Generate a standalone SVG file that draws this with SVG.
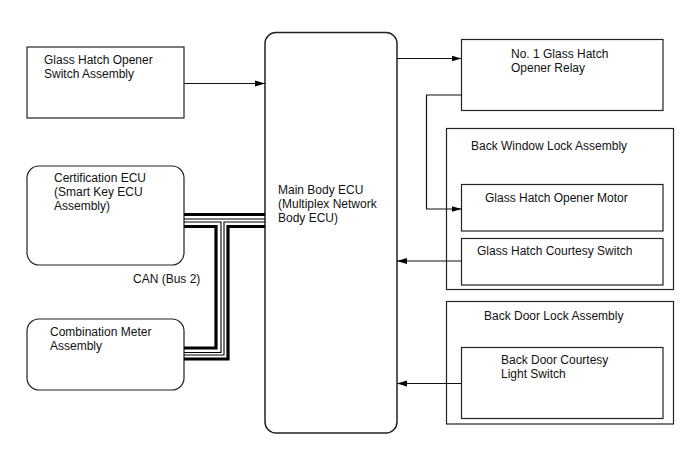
<svg xmlns="http://www.w3.org/2000/svg" width="688" height="463" viewBox="0 0 688 463">
<style>
.b{fill:#fff;stroke:#222;stroke-width:1.2}
.t{font-family:"Liberation Sans",Arial,sans-serif;font-size:12px;fill:#111}
.c{fill:none;stroke:#111;stroke-width:1.2}
.k{fill:none;stroke:#000;stroke-width:3.2}
.n{fill:none;stroke:#000;stroke-width:1.1}
</style>
<defs>
<marker id="ah" viewBox="0 0 10 8" refX="10" refY="4" markerWidth="10" markerHeight="8" markerUnits="userSpaceOnUse" orient="auto">
<path d="M0,1 L10,4 L0,7 Z" fill="#000"/>
</marker>
</defs>
<rect width="688" height="463" fill="#fff"/>
<g id="switch">
<rect class="b" x="27" y="47" width="157" height="71"/>
<text class="t" x="44" y="64">Glass Hatch Opener</text>
<text class="t" x="44" y="78">Switch Assembly</text>
</g>
<g id="cert">
<rect class="b" x="27" y="166" width="157" height="99" rx="12"/>
<text class="t" x="54" y="182">Certification ECU</text>
<text class="t" x="54" y="196">(Smart Key ECU</text>
<text class="t" x="54" y="210">Assembly)</text>
</g>
<g id="can">
<text class="t" x="133" y="283">CAN (Bus 2)</text>
</g>
<g id="meter">
<rect class="b" x="27" y="319" width="157" height="71" rx="12"/>
<text class="t" x="50" y="336">Combination Meter</text>
<text class="t" x="50" y="350">Assembly</text>
</g>
<g id="main">
<rect class="b" x="265" y="32.5" width="132" height="400.5" rx="11" style="stroke-width:1.5"/>
<text class="t" x="278" y="194">Main Body ECU</text>
<text class="t" x="278" y="208">(Multiplex Network</text>
<text class="t" x="278" y="222">Body ECU)</text>
</g>
<g id="relay">
<rect class="b" x="461.5" y="39.5" width="201.5" height="71"/>
<text class="t" x="511" y="58">No. 1 Glass Hatch</text>
<text class="t" x="511" y="72">Opener Relay</text>
</g>
<g id="backwindow">
<rect class="b" x="446.5" y="128.5" width="227" height="161"/>
<text class="t" x="471" y="150">Back Window Lock Assembly</text>
</g>
<g id="motor">
<rect class="b" x="461.5" y="184.5" width="201.5" height="46.5"/>
<text class="t" x="485" y="202">Glass Hatch Opener Motor</text>
</g>
<g id="courtesy">
<rect class="b" x="461.5" y="238.5" width="201.5" height="46.5"/>
<text class="t" x="477" y="255">Glass Hatch Courtesy Switch</text>
</g>
<g id="backdoor">
<rect class="b" x="446.5" y="301.5" width="227" height="122.5"/>
<text class="t" x="484" y="320">Back Door Lock Assembly</text>
</g>
<g id="lightswitch">
<rect class="b" x="461.5" y="347.5" width="201.5" height="71"/>
<text class="t" x="501" y="364">Back Door Courtesy</text>
<text class="t" x="501" y="378">Light Switch</text>
</g>
<g id="connectors">
<path class="c" d="M184,83.5 H265" marker-end="url(#ah)"/>
<path class="c" d="M397,58.5 H461.5" marker-end="url(#ah)"/>
<path class="c" d="M461.5,95 H426.5 V209 H461.5" marker-end="url(#ah)"/>
<path class="c" d="M461.5,261 H397" marker-end="url(#ah)"/>
<path class="c" d="M461.5,383.5 H397" marker-end="url(#ah)"/>
<path class="k" d="M184,214.5 H265"/>
<path class="n" d="M184,219 H265"/>
<path class="n" d="M184,222 H221 V352.5 H184"/>
<path class="k" d="M184,226.5 H216 V348 H184"/>
<path class="n" d="M265,222 H224 V355 H184"/>
<path class="k" d="M265,226.5 H228 V359 H184"/>
</g>
</svg>
